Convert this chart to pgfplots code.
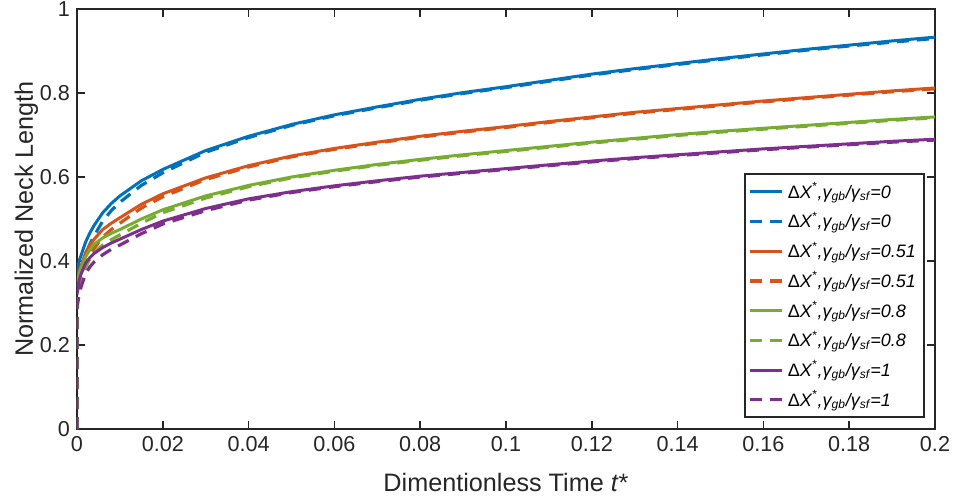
\documentclass[border=0pt]{standalone}
\usepackage{pgfplots}
\pgfplotsset{compat=1.18}
\usepackage{fontspec}
\setmainfont{Liberation Sans}
\definecolor{mblue}{rgb}{0,0.447,0.741}
\definecolor{morange}{rgb}{0.85,0.325,0.098}
\definecolor{mgreen}{rgb}{0.466,0.674,0.188}
\definecolor{mpurple}{rgb}{0.494,0.184,0.556}
\newcommand{\lab}[1]{{\upshape Δ}X\textsuperscript{*},γ\textsubscript{gb}/γ\textsubscript{sf}=#1}
\begin{document}
\begin{tikzpicture}
\begin{axis}[
  scale only axis, width=429pt, height=210pt,
  xmin=0, xmax=0.2, ymin=0, ymax=1,
  xtick={0,0.02,0.04,0.06,0.08,0.1,0.12,0.14,0.16,0.18,0.2},
  ytick={0,0.2,0.4,0.6,0.8,1},
  xticklabels={0,0.02,0.04,0.06,0.08,0.1,0.12,0.14,0.16,0.18,0.2},
  yticklabels={0,0.2,0.4,0.6,0.8,1},
  tick align=inside, major tick length=4pt,
  tick style={black!85, line width=0.8pt},
  axis line style={black!85, line width=1pt},
  ticklabel style={font=\fontsize{10.8}{12}\selectfont, text=black!85},
  label style={font=\fontsize{12.6}{14}\selectfont, text=black!85},
  xlabel={Dimentionless Time \textit{t}*},
  ylabel={Normalized Neck Length},
  xlabel style={yshift=-4pt},
  ylabel style={yshift=-6pt},
  legend style={at={(0.988,0.026)}, anchor=south east, draw=black!85, line width=0.9pt,
    font=\fontsize{9}{10.5}\selectfont\itshape, row sep=1.4pt, inner sep=2pt,
    cells={anchor=west}},
  legend image code/.code={\draw[#1] (0pt,0pt) -- (16pt,0pt);},
  legend cell align=left,
]
% blue
\addplot[mblue, line width=1.5pt] coordinates {(0,0.37)(0.0005,0.40)(0.001,0.415)(0.002,0.445)(0.003,0.467)(0.004,0.485)(0.006,0.515)(0.008,0.537)(0.01,0.555)(0.015,0.591)(0.02,0.618)(0.03,0.663)(0.04,0.697)(0.05,0.725)(0.06,0.748)(0.07,0.767)(0.08,0.785)(0.09,0.801)(0.1,0.815)(0.11,0.830)(0.12,0.845)(0.13,0.858)(0.14,0.870)(0.15,0.882)(0.16,0.893)(0.17,0.904)(0.18,0.914)(0.19,0.924)(0.2,0.933)};
\addlegendentry{\lab{0}}
\addplot[mblue, line width=1.6pt, dash pattern=on 6pt off 4pt] coordinates {(0,0)(0,0.3)(0.0005,0.36)(0.001,0.38)(0.002,0.415)(0.003,0.44)(0.004,0.46)(0.006,0.495)(0.008,0.52)(0.01,0.54)(0.015,0.58)(0.02,0.61)(0.03,0.659)(0.04,0.694)(0.05,0.723)(0.06,0.746)(0.07,0.765)(0.08,0.783)(0.09,0.799)(0.1,0.813)(0.11,0.828)(0.12,0.843)(0.13,0.856)(0.14,0.868)(0.15,0.880)(0.16,0.891)(0.17,0.902)(0.18,0.912)(0.19,0.921)(0.2,0.930)};
\addlegendentry{\lab{0}}
% orange
\addplot[morange, line width=1.5pt] coordinates {(0,0.35)(0.0005,0.375)(0.001,0.39)(0.002,0.42)(0.003,0.438)(0.004,0.452)(0.006,0.475)(0.008,0.49)(0.01,0.503)(0.015,0.535)(0.02,0.56)(0.03,0.598)(0.04,0.627)(0.05,0.65)(0.06,0.668)(0.07,0.683)(0.08,0.697)(0.09,0.709)(0.1,0.72)(0.11,0.732)(0.12,0.743)(0.13,0.754)(0.14,0.763)(0.15,0.772)(0.16,0.781)(0.17,0.789)(0.18,0.797)(0.19,0.805)(0.2,0.812)};
\addlegendentry{\lab{0.51}}
\addplot[morange, line width=1.6pt, dash pattern=on 6pt off 4pt] coordinates {(0,0)(0,0.3)(0.0005,0.34)(0.001,0.36)(0.002,0.392)(0.003,0.413)(0.004,0.43)(0.006,0.457)(0.008,0.475)(0.01,0.49)(0.015,0.526)(0.02,0.553)(0.03,0.594)(0.04,0.624)(0.05,0.648)(0.06,0.666)(0.07,0.681)(0.08,0.695)(0.09,0.707)(0.1,0.718)(0.11,0.730)(0.12,0.741)(0.13,0.752)(0.14,0.761)(0.15,0.770)(0.16,0.779)(0.17,0.787)(0.18,0.795)(0.19,0.803)(0.2,0.810)};
\addlegendentry{\lab{0.51}}
% green
\addplot[mgreen, line width=1.5pt] coordinates {(0,0.34)(0.0005,0.37)(0.001,0.385)(0.002,0.41)(0.003,0.427)(0.004,0.44)(0.006,0.455)(0.008,0.466)(0.01,0.475)(0.015,0.5)(0.02,0.522)(0.03,0.555)(0.04,0.58)(0.05,0.6)(0.06,0.616)(0.07,0.630)(0.08,0.642)(0.09,0.653)(0.1,0.663)(0.11,0.673)(0.12,0.683)(0.13,0.692)(0.14,0.701)(0.15,0.709)(0.16,0.716)(0.17,0.723)(0.18,0.730)(0.19,0.737)(0.2,0.743)};
\addlegendentry{\lab{0.8}}
\addplot[mgreen, line width=1.6pt, dash pattern=on 6pt off 4pt] coordinates {(0,0)(0,0.3)(0.0005,0.335)(0.001,0.355)(0.002,0.385)(0.003,0.405)(0.004,0.42)(0.006,0.438)(0.008,0.451)(0.01,0.462)(0.015,0.49)(0.02,0.515)(0.03,0.55)(0.04,0.577)(0.05,0.598)(0.06,0.614)(0.07,0.628)(0.08,0.640)(0.09,0.651)(0.1,0.661)(0.11,0.671)(0.12,0.681)(0.13,0.690)(0.14,0.699)(0.15,0.707)(0.16,0.714)(0.17,0.721)(0.18,0.728)(0.19,0.735)(0.2,0.741)};
\addlegendentry{\lab{0.8}}
% purple
\addplot[mpurple, line width=1.5pt] coordinates {(0,0.32)(0.0005,0.355)(0.001,0.37)(0.002,0.395)(0.003,0.408)(0.004,0.418)(0.006,0.432)(0.008,0.443)(0.01,0.452)(0.015,0.475)(0.02,0.495)(0.03,0.525)(0.04,0.548)(0.05,0.565)(0.06,0.579)(0.07,0.591)(0.08,0.602)(0.09,0.611)(0.1,0.62)(0.11,0.629)(0.12,0.638)(0.13,0.646)(0.14,0.653)(0.15,0.660)(0.16,0.667)(0.17,0.673)(0.18,0.679)(0.19,0.685)(0.2,0.69)};
\addlegendentry{\lab{1}}
\addplot[mpurple, line width=1.6pt, dash pattern=on 6pt off 4pt] coordinates {(0,0)(0,0.29)(0.0005,0.32)(0.001,0.34)(0.002,0.37)(0.003,0.386)(0.004,0.398)(0.006,0.415)(0.008,0.428)(0.01,0.438)(0.015,0.465)(0.02,0.488)(0.03,0.52)(0.04,0.545)(0.05,0.563)(0.06,0.577)(0.07,0.589)(0.08,0.600)(0.09,0.609)(0.1,0.618)(0.11,0.627)(0.12,0.636)(0.13,0.644)(0.14,0.651)(0.15,0.658)(0.16,0.665)(0.17,0.671)(0.18,0.677)(0.19,0.683)(0.2,0.688)};
\addlegendentry{\lab{1}}
\end{axis}
\pgfresetboundingbox
\path (current axis.south west) ++(-38.5pt,-35pt) rectangle ++(477pt,249.5pt);
\end{tikzpicture}
\end{document}
